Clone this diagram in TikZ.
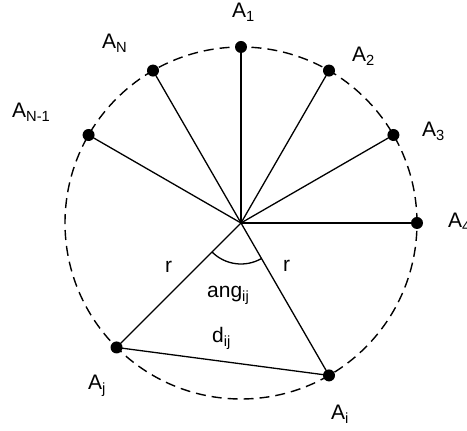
\documentclass[tikz,border=0pt]{standalone}
\usepackage{fontspec}
\setmainfont{Liberation Sans}
\usetikzlibrary{calc}
\tikzset{
  dot/.style={circle,fill=black,inner sep=0pt,minimum size=12pt},
  lbl/.style={anchor=base west,inner sep=0pt,font=\fontsize{21}{25}\selectfont},
  spoke/.style={line width=1.3pt},
  rim/.style={line width=1.4pt,dash pattern=on 10pt off 6pt}
}
\begin{document}
\begin{tikzpicture}[x=1pt,y=1pt]
\useasboundingbox (0,0) rectangle (467,431);
\coordinate (O) at (241,208);
\draw[rim] (O) circle[radius=176];
\foreach \n/\a in {p1/90,p2/60,p3/30,p4/0,pN/120,pM/150,pj/225,pi/300}{
  \node[dot] (\n) at ($(O)+(\a:176)$) {};
  \draw[spoke] (O) -- (\n.center);
}
\draw[spoke] (pj.center) -- (pi.center);
\draw[spoke] ($(O)+(225:41)$) arc[start angle=225,end angle=300,radius=41];
\node[lbl] (l1) at (232,413) {A\textsubscript{1}};
\node[lbl] (lN) at (102,382) {A\textsubscript{N}};
\node[lbl] (lM) at (12,313) {A\textsubscript{N-1}};
\node[lbl] (l2) at (352,369) {A\textsubscript{2}};
\node[lbl] (l3) at (422,294) {A\textsubscript{3}};
\node[lbl] (l4) at (448,203) {A\textsubscript{4}};
\node[lbl] (lj) at (88,41) {A\textsubscript{j}};
\node[lbl] (li) at (331,11) {A\textsubscript{i}};
\node[lbl] (r1) at (165,158) {r};
\node[lbl] (r2) at (283,159) {r};
\node[lbl] (ang) at (207,133) {ang\textsubscript{ij}};
\node[lbl] (d) at (212,88) {d\textsubscript{ij}};
\end{tikzpicture}
\end{document}
